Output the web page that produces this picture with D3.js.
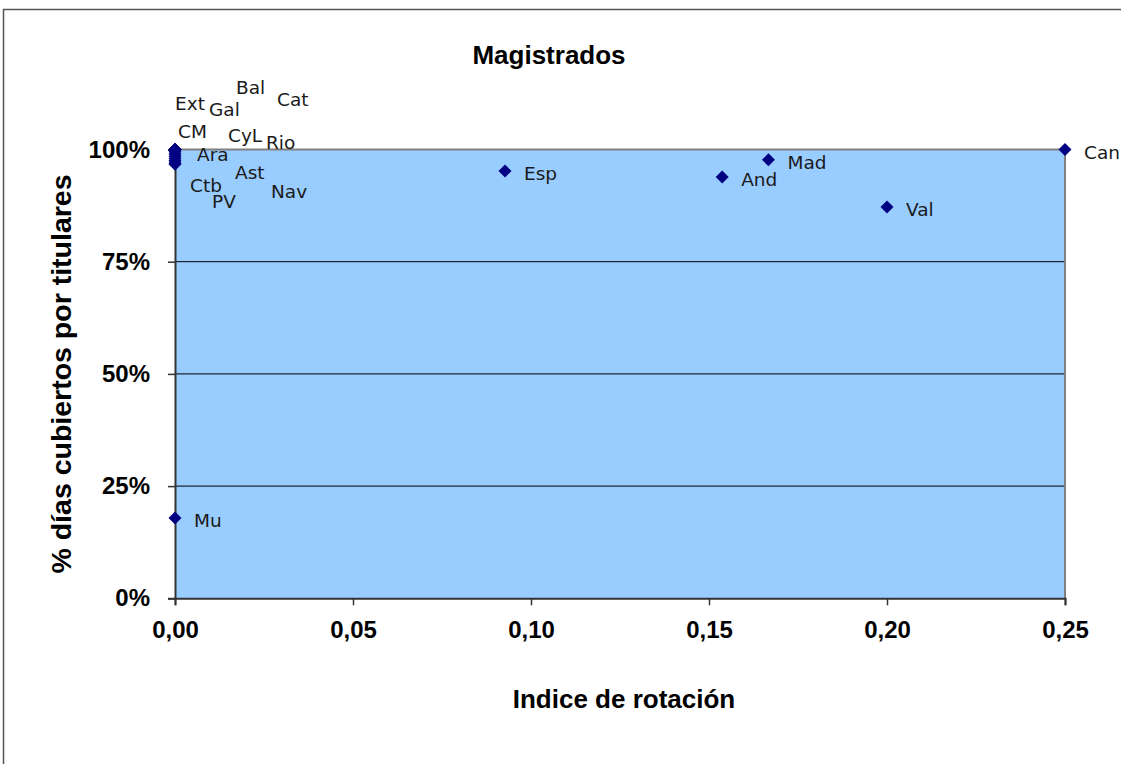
<!DOCTYPE html>
<html>
<head>
<meta charset="utf-8">
<script src="https://cdn.jsdelivr.net/npm/d3@7"></script>
<style>
  html, body { margin: 0; padding: 0; background: #fff; }
  svg { display: block; }
</style>
</head>
<body>
<svg id="chart" width="1121" height="764"></svg>
<script>
// ---- data ----
const regions  = ["Ext","Gal","Bal","Cat","CM","CyL","Rio","Ara","Ast","Ctb","Nav","PV","Mu","Esp","And","Mad","Val","Can"];
const rotation = [0,0,0,0,0,0,0,0,0,0,0,0,0,0.0927,0.1537,0.1667,0.20,0.25];
const coverage = [1.00,1.00,1.00,1.00,0.995,0.99,1.00,0.985,0.98,0.975,0.97,0.967,0.179,0.952,0.939,0.977,0.872,1.00];
const xTicks = [0,0.05,0.10,0.15,0.20,0.25];
const yTicks = [0,0.25,0.5,0.75,1];
const chartTitle = "Magistrados";
const xTitle = "Indice de rotación";
const yTitle = "% días cubiertos por titulares";

// manual label placement (pixel offsets from each marker), as in the original chart
const labelOffsets = {
  Ext:[0,-40], Gal:[34,-34], Bal:[61,-56], Cat:[102,-44], CM:[3,-14], CyL:[53,-12],
  Rio:[91,-1], Ara:[22,5], Ast:[60,21], Ctb:[15,31], Nav:[96,35], PV:[37,44]
};
const defaultOffset = [19,9];

// ---- layout ----
const svg = d3.select("#chart");
const L = 175, R = 1065, T = 149.5, B = 598.3;
const x = d3.scaleLinear().domain([0,0.25]).range([L,R]);
const y = d3.scaleLinear().domain([0,1]).range([B,T]);

// outer chart border
svg.append("rect").attr("x",3.5).attr("y",9.5).attr("width",1130).attr("height",800)
  .attr("fill","#fff").attr("stroke","#555").attr("stroke-width",1.5);

// plot area
svg.append("rect").attr("x",L).attr("y",T).attr("width",R-L).attr("height",B-T)
  .attr("fill","#99CCFF");

// gridlines
svg.append("g").selectAll("line").data(yTicks.filter(v=>v>0 && v<1)).join("line")
  .attr("x1",L).attr("x2",R).attr("y1",d=>y(d)).attr("y2",d=>y(d))
  .attr("stroke","#000").attr("stroke-width",1);

// top & right border
svg.append("path").attr("d",`M${L},${T}H${R}V${B}`).attr("fill","none")
  .attr("stroke","#808080").attr("stroke-width",2);

const fontBold = "'Liberation Sans', Arial, sans-serif";

// y axis
const yAxis = svg.append("g").attr("transform",`translate(${L},0)`)
  .call(d3.axisLeft(y).tickValues(yTicks).tickFormat(d3.format(".0%")).tickSize(7).tickPadding(18));
yAxis.select(".domain").attr("stroke","#333").attr("stroke-width",2);
yAxis.selectAll(".tick line").attr("stroke","#333").attr("stroke-width",1.5);
yAxis.selectAll(".tick text").attr("font-family",fontBold).attr("font-weight","bold")
  .attr("font-size",24).attr("fill","#000");

// x axis
const xAxis = svg.append("g").attr("transform",`translate(0,${B})`)
  .call(d3.axisBottom(x).tickValues(xTicks).tickFormat(d=>d3.format(".2f")(d).replace(".",",")).tickSize(7).tickPadding(16));
xAxis.select(".domain").attr("stroke","#333").attr("stroke-width",2);
xAxis.selectAll(".tick line").attr("stroke","#333").attr("stroke-width",1.5);
xAxis.selectAll(".tick text").attr("font-family",fontBold).attr("font-weight","bold")
  .attr("font-size",24).attr("fill","#000");

// titles
svg.append("text").attr("x",549).attr("y",64).attr("text-anchor","middle")
  .attr("font-family",fontBold).attr("font-weight","bold").attr("font-size",26)
  .text(chartTitle);
svg.append("text").attr("x",624).attr("y",708).attr("text-anchor","middle")
  .attr("font-family",fontBold).attr("font-weight","bold").attr("font-size",26)
  .text(xTitle);
svg.append("text").attr("transform",`translate(71,374) rotate(-90)`).attr("text-anchor","middle")
  .attr("font-family",fontBold).attr("font-weight","bold").attr("font-size",28.5)
  .text(yTitle);

// points
const pts = regions.map((r,i)=>({r, xv:rotation[i], yv:coverage[i]}));
const diamond = "M0,-6.5L6.5,0L0,6.5L-6.5,0Z";
svg.append("g").selectAll("path").data(pts).join("path")
  .attr("d",diamond).attr("transform",d=>`translate(${x(d.xv)},${y(d.yv)})`)
  .attr("fill","#000080");

// labels
svg.append("g").selectAll("text").data(pts).join("text")
  .attr("x",d=>x(d.xv)+(labelOffsets[d.r]||defaultOffset)[0])
  .attr("y",d=>y(d.yv)+(labelOffsets[d.r]||defaultOffset)[1])
  .attr("font-family","'DejaVu Sans', Verdana, sans-serif").attr("font-size",18.5)
  .attr("fill","#1a1a1a")
  .text(d=>d.r);
</script>
</body>
</html>
